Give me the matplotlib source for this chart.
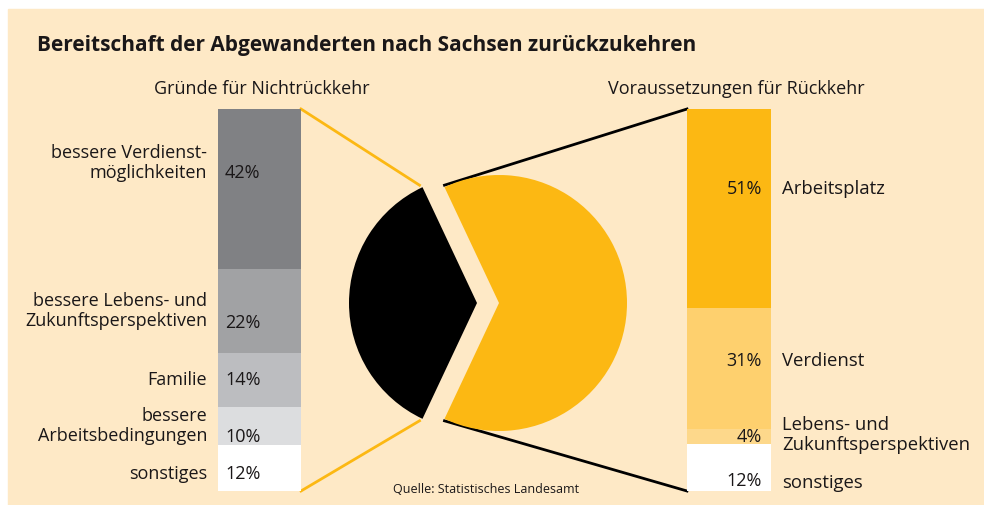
import numpy as np
import matplotlib.pyplot as plt
from matplotlib.patches import Rectangle

# data
title = "Bereitschaft der Abgewanderten nach Sachsen zurückzukehren"
left_title = "Gründe für Nichtrückkehr"
right_title = "Voraussetzungen für Rückkehr"
left_labels = ["bessere Verdienst-\nmöglichkeiten", "bessere Lebens- und\nZukunftsperspektiven",
               "Familie", "bessere\nArbeitsbedingungen", "sonstiges"]
left_values = [42, 22, 14, 10, 12]
right_labels = ["Arbeitsplatz", "Verdienst", "Lebens- und\nZukunftsperspektiven", "sonstiges"]
right_values = [51, 31, 4, 12]
pie_labels = ["zurück", "nicht zurück"]
pie_values = [64, 36]
source = "Quelle: Statistisches Landesamt"

left_colors = ["#808184", "#a1a2a4", "#bcbdc0", "#dcdddf", "#ffffff"]
right_colors = ["#fcb813", "#fed06e", "#fdd88b", "#ffffff"]
bg = "#fee9c6"
yellow = "#fcb813"
ink = "#1a1718"

plt.rcParams['font.family'] = ['Open Sans', 'DejaVu Sans']
plt.rcParams['text.color'] = ink

W, H = 984, 506
fig = plt.figure(figsize=(W / 100, H / 100), dpi=100)
fig.patch.set_facecolor("white")
ax = fig.add_axes([0, 0, 1, 1])
ax.set_axis_off()

# peach background panel
ax.add_patch(Rectangle((8, 10), W + 20, H + 20, color=bg, zorder=0))

# stacked bars (pixel layout)
bar_top, bar_h = 110, 382
lx, lw = 259.5, 83
rx, rw = 729, 84

def stacked(xc, w, values, colors):
    scale = bar_h / sum(values)
    heights = np.array(values) * scale
    bottoms = bar_top + np.concatenate([[0], np.cumsum(heights)[:-1]])
    ax.bar([xc] * len(values), heights, bottom=bottoms, width=w, color=colors,
           linewidth=0, zorder=2)
    return bottoms, heights

lb, lh = stacked(lx, lw, left_values, left_colors)
rb, rh = stacked(rx, rw, right_values, right_colors)

# exploded pie
pc, pr, ex = (488, 304), 128, 11
half = 360 * pie_values[0] / 100 / 2
wedges, _ = ax.pie(pie_values, colors=[yellow, "black"], startangle=-half,
                   radius=pr, center=pc, explode=[ex, ex],
                   wedgeprops=dict(linewidth=0))
for w in wedges:
    w.set_zorder(2)

ax.set_xlim(0, W)
ax.set_ylim(H, 0)
ax.set_aspect("auto")

# wedge corners for connector lines
a = np.deg2rad(half)
bcx = pc[0] - ex
ycx = pc[0] + ex
dx, dy = pr * np.cos(a), pr * np.sin(a)
ax.plot([lx + lw / 2, bcx + dx - 3], [bar_top, pc[1] - dy - 2], color=yellow, lw=2, zorder=1)
ax.plot([lx + lw / 2, bcx + dx - 3], [bar_top + bar_h, pc[1] + dy + 2], color=yellow, lw=2, zorder=1)
ax.plot([rx - rw / 2, ycx + dx], [bar_top, pc[1] - dy - 2], color="black", lw=2, zorder=1)
ax.plot([rx - rw / 2, ycx + dx], [bar_top + bar_h, pc[1] + dy + 2], color="black", lw=2, zorder=1)

# texts
ax.text(37, 51, title, fontsize=15, fontweight="bold", ha="left", va="baseline")
ax.text(lx + 2, 94, left_title, fontsize=13, ha="center", va="baseline")
ax.text(736, 94, right_title, fontsize=13, ha="center", va="baseline")

ls = 1.15
left_lab_y = [163, 311, 380, 426, 474]
left_pct_y = [173, 323, 380, 437, 474]
for lab, v, yl, yp in zip(left_labels, left_values, left_lab_y, left_pct_y):
    ax.text(207, yl, lab, fontsize=13, ha="right", va="center", linespacing=ls,
            multialignment="right")
    ax.text(225, yp, f"{v}%", fontsize=13, ha="left", va="center")

right_lab_y = [189, 361, 435, 483]
right_pct_y = [189, 361, 437, 481]
for lab, v, yl, yp in zip(right_labels, right_values, right_lab_y, right_pct_y):
    ax.text(782, yl, lab, fontsize=13.3, ha="left", va="center", linespacing=ls)
    ax.text(762, yp, f"{v}%", fontsize=13, ha="right", va="center")

ax.text(486, 490, source, fontsize=9, ha="center", va="center")

fig.savefig("out.png", dpi=100, facecolor="white")
